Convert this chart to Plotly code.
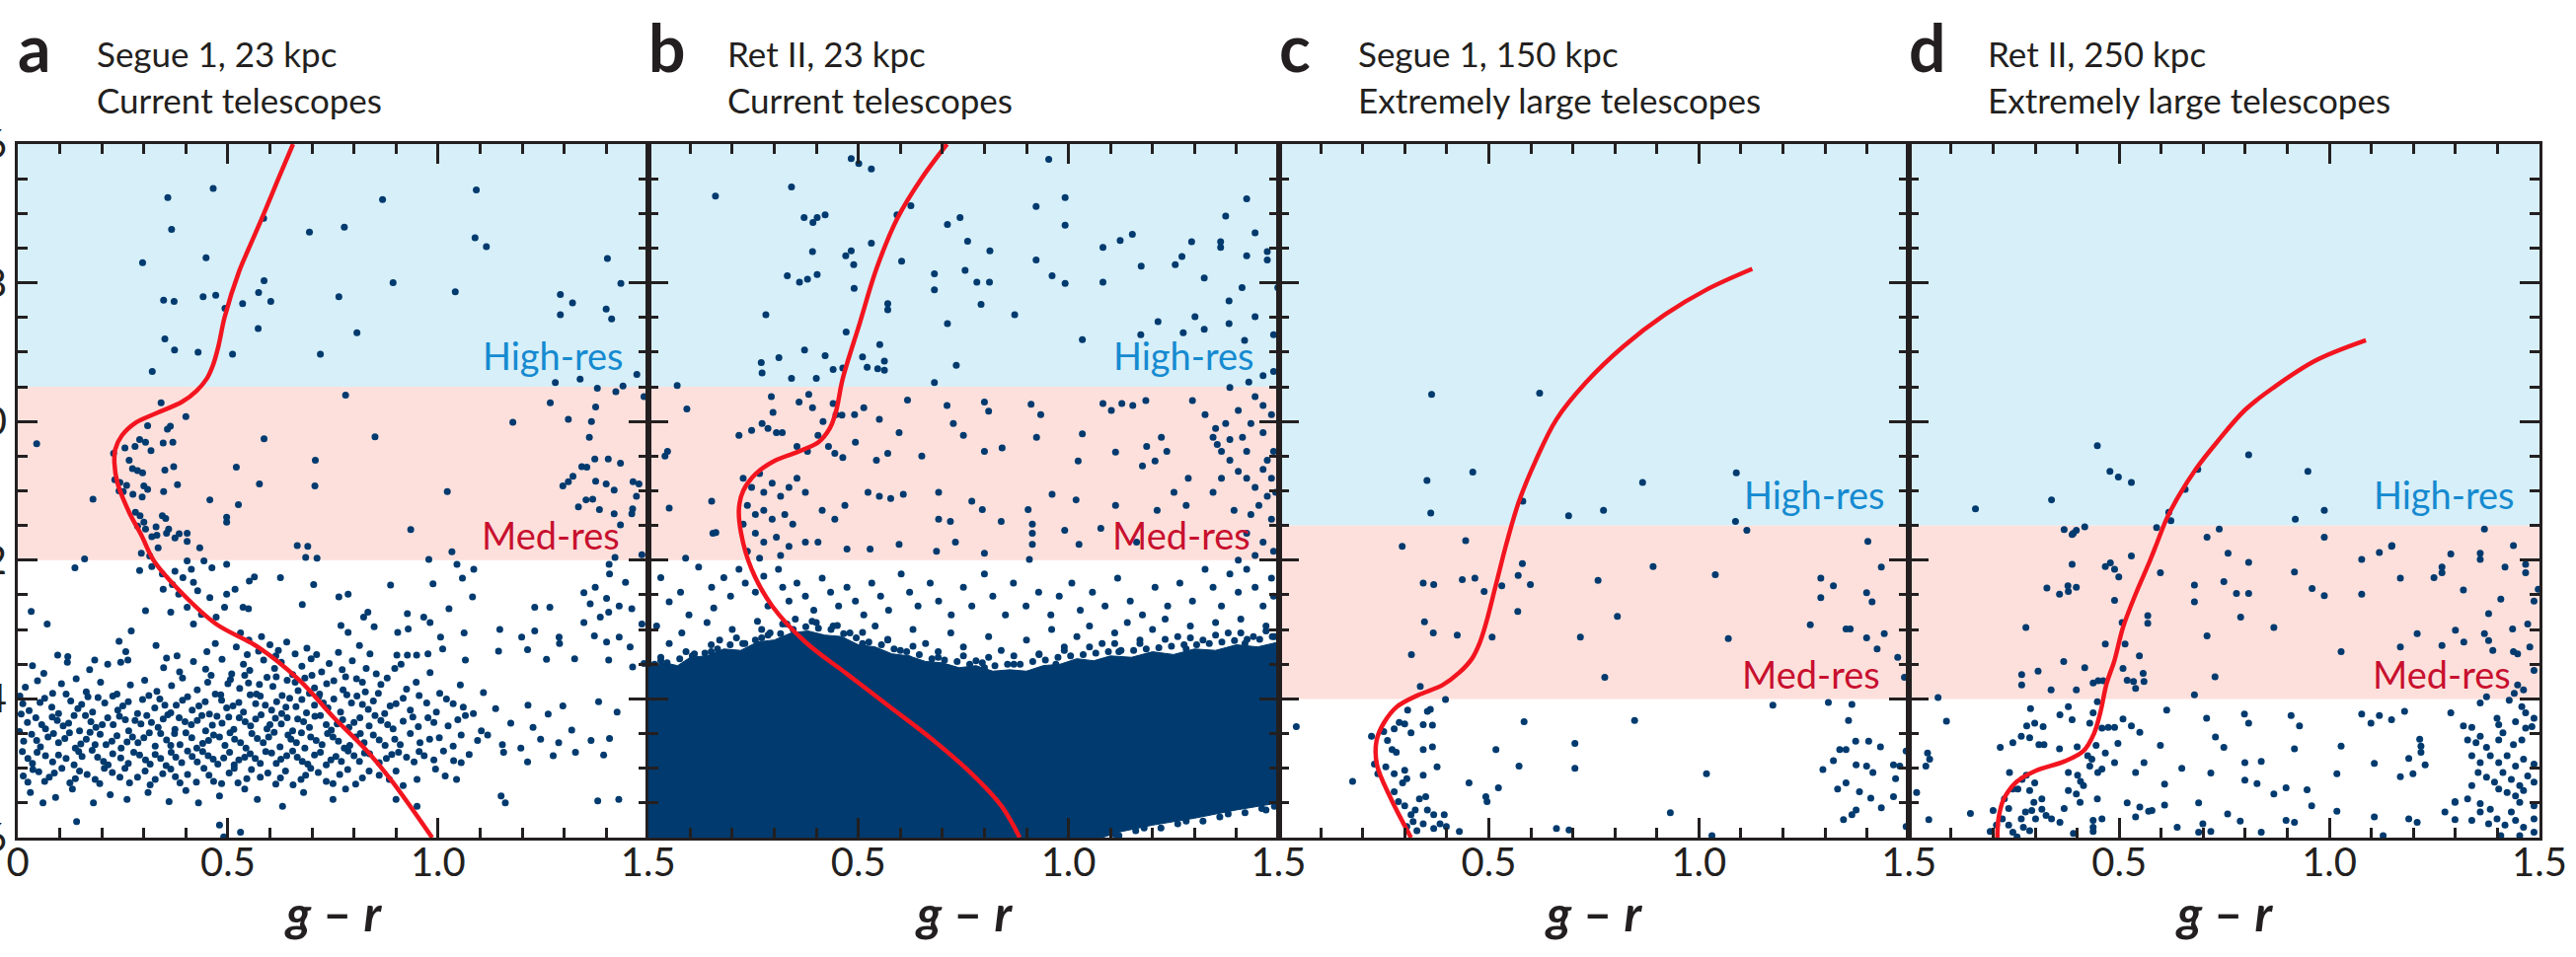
import plotly.graph_objects as go
from plotly.subplots import make_subplots

# ---------------- isochrones: (g - r, r) ----------------
seg23_iso_gr = [0.655, 0.62, 0.581, 0.55, 0.527, 0.492, 0.478, 0.465, 0.45, 0.425, 0.39, 0.33,
                0.28, 0.248, 0.232, 0.230, 0.237, 0.265, 0.295, 0.324, 0.393, 0.472, 0.571, 0.67,
                0.749, 0.828, 0.887, 0.986]
seg23_iso_r = [16.0, 16.5, 17.07, 17.5, 17.83, 18.5, 18.9, 19.18, 19.38, 19.56, 19.72, 19.88,
               20.02, 20.2, 20.4, 20.6, 20.88, 21.31, 21.65, 22.01, 22.49, 22.92, 23.25, 23.73,
               24.25, 24.73, 25.16, 26.0]

ret23_iso_gr = [0.711, 0.651, 0.592, 0.543, 0.503, 0.463, 0.447, 0.432, 0.405, 0.355, 0.3,
                0.255, 0.226, 0.216, 0.221, 0.246, 0.295, 0.374, 0.473, 0.572, 0.671, 0.77,
                0.84, 0.884]
ret23_iso_r = [16.0, 16.49, 17.08, 17.8, 18.59, 19.38, 19.85, 20.1, 20.3, 20.44, 20.57,
               20.76, 21.0, 21.25, 21.61, 22.13, 22.66, 23.18, 23.64, 24.1, 24.56, 25.08,
               25.54, 26.0]

seg150_iso_gr = [1.127, 1.018, 0.919, 0.82, 0.731, 0.661, 0.612, 0.572, 0.543, 0.518, 0.493,
                 0.478, 0.46, 0.43, 0.39, 0.33, 0.28, 0.25, 0.233, 0.234, 0.265, 0.315]
seg150_iso_r = [17.8, 18.1, 18.46, 18.92, 19.44, 19.97, 20.56, 21.15, 21.74, 22.33, 22.92,
                23.2, 23.42, 23.62, 23.8, 23.95, 24.12, 24.35, 24.6, 24.95, 25.41, 26.0]

ret250_iso_gr = [1.087, 0.968, 0.87, 0.80, 0.731, 0.682, 0.642, 0.613, 0.59, 0.573, 0.539, 0.509,
                 0.489, 0.47, 0.455, 0.44, 0.415, 0.37, 0.30, 0.255, 0.225, 0.213, 0.21]
ret250_iso_r = [18.83, 19.12, 19.5, 19.83, 20.31, 20.69, 21.07, 21.4, 21.75, 22.01, 22.49, 22.97,
                23.44, 23.78, 24.2, 24.5, 24.75, 24.9, 25.04, 25.2, 25.45, 25.72, 26.0]

# ---------------- stars: (g - r, r) ----------------
seg23_stars = [
    (0.357, 16.77), (0.465, 16.64), (0.868, 16.80), (1.091, 16.66), (0.366, 17.23), (0.585, 17.07),
    (0.694, 17.27), (0.777, 17.2), (1.088, 17.35), (1.115, 17.48), (0.297, 17.71), (0.448, 17.64),
    (1.403, 17.65), (0.893, 18.0), (1.435, 18.01), (0.586, 17.97), (0.347, 18.25), (0.372, 18.27),
    (0.441, 18.2), (0.471, 18.18), (0.493, 18.37), (0.535, 18.3), (0.573, 18.14), (0.602, 18.27),
    (0.764, 18.2), (1.041, 18.13), (1.291, 18.17), (1.32, 18.29), (1.291, 18.46), (1.4, 18.38),
    (1.413, 18.52), (0.572, 18.66), (0.807, 18.72), (0.35, 18.81), (0.373, 18.97), (0.429, 19.0),
    (0.511, 19.03), (0.72, 19.03), (0.32, 19.28), (1.279, 19.44), (1.338, 19.39), (1.379, 19.52),
    (1.423, 19.57), (1.44, 19.49), (1.473, 19.32), (1.49, 19.64),
    (0.78, 19.62), (0.341, 19.73), (0.4, 19.93), (1.267, 19.73), (1.375, 19.79), (1.31, 19.97),
    (1.365, 20.0), (1.178, 20.01), (0.309, 20.06), (0.356, 20.11), (0.363, 20.07), (0.045, 20.32),
    (0.29, 20.26), (0.304, 20.3), (0.279, 20.36), (0.255, 20.38), (0.346, 20.31), (0.369, 20.3),
    (0.317, 20.42), (0.586, 20.25), (0.85, 20.22), (1.36, 20.23), (0.228, 20.46), (0.265, 20.56),
    (0.708, 20.56), (1.373, 20.54), (1.405, 20.54), (1.434, 20.6), (0.273, 20.68), (0.285, 20.71),
    (0.297, 20.74), (0.35, 20.7), (0.371, 20.65), (0.52, 20.66), (1.342, 20.65), (1.354, 20.66),
    (0.231, 20.84), (0.243, 20.88), (0.259, 20.92), (0.3, 20.93), (0.309, 20.98), (0.38, 20.91),
    (0.575, 20.9), (0.707, 20.93), (1.321, 20.79), (1.31, 20.87), (1.297, 20.93), (1.375, 20.86),
    (1.4, 20.9), (1.419, 20.99), (1.464, 20.87), (1.478, 20.9), (0.241, 21.0), (0.251, 21.01),
    (0.274, 21.05), (0.296, 21.09), (0.347, 21.01), (1.022, 21.01), (1.472, 21.08), (0.179, 21.12),
    (0.457, 21.13), (0.525, 21.2), (1.352, 21.13), (1.368, 21.12), (1.334, 21.23), (1.384, 21.27),
    (1.419, 21.33), (1.463, 21.26), (1.461, 21.33), (1.434, 21.49), (0.28, 21.31), (0.291, 21.36),
    (0.344, 21.36), (0.352, 21.4), (0.3, 21.45), (0.285, 21.51), (0.304, 21.55), (0.329, 21.52),
    (0.359, 21.55), (0.384, 21.62), (0.403, 21.61), (0.331, 21.64), (0.497, 21.38), (0.497, 21.45),
    (0.935, 21.56), (0.319, 21.66), (0.354, 21.61), (0.374, 21.68), (0.403, 21.73), (0.433, 21.82),
    (0.294, 21.9), (0.314, 21.94), (0.334, 21.82), (0.665, 21.79), (0.69, 21.8), (0.685, 21.96),
    (0.712, 21.97), (1.033, 21.88), (1.421, 21.96), (1.485, 21.92), (0.159, 21.98), (0.136, 22.11),
    (0.29, 22.15), (0.319, 22.09), (0.344, 22.2), (0.374, 22.16), (0.403, 22.01), (0.413, 22.13),
    (0.443, 22.01), (0.462, 22.11), (0.497, 22.06), (0.346, 22.42), (0.368, 22.35), (0.383, 22.49),
    (0.393, 22.25), (0.418, 22.32), (0.428, 22.44), (0.457, 22.54), (0.364, 22.75), (0.403, 22.68),
    (0.437, 22.78), (0.418, 22.92), (0.492, 22.68), (0.472, 22.82), (0.497, 22.49), (0.517, 22.42),
    (0.551, 22.3), (0.563, 22.24), (0.625, 22.25), (0.704, 22.35), (0.764, 22.53), (0.786, 22.49),
    (0.887, 22.36), (0.988, 22.34), (1.045, 22.06), (1.058, 22.26), (1.085, 22.13), (1.082, 22.53),
    (0.978, 21.99), (0.677, 22.64), (0.536, 22.68), (0.549, 22.7), (0.032, 22.74), (0.07, 22.92),
    (0.304, 22.73), (0.27, 23.02), (0.241, 23.17), (0.329, 23.23), (0.257, 23.32), (0.095, 23.37),
    (0.119, 23.39), (0.183, 23.44), (0.245, 23.47), (0.354, 23.41), (0.379, 23.38), (1.407, 22.06),
    (1.408, 22.2), (1.446, 22.32), (1.374, 22.39), (1.347, 22.47), (1.401, 22.55), (1.431, 22.66),
    (1.362, 22.63), (1.406, 22.75), (1.386, 22.82), (1.347, 22.9), (1.461, 22.7), (1.485, 22.92),
    (1.23, 22.68), (1.266, 22.68), (1.147, 23.0), (1.062, 23.05), (1.026, 22.7), (0.927, 22.77),
    (0.966, 22.82), (0.904, 23.04), (0.929, 22.99), (0.981, 22.9), (1.006, 23.11), (1.144, 23.31),
    (1.199, 23.11), (1.23, 23.02), (1.288, 23.11), (1.289, 23.2), (1.372, 23.09), (1.401, 23.18),
    (1.431, 23.11), (1.457, 23.25), (1.213, 23.29), (1.258, 23.43), (1.325, 23.42), (1.406, 23.44),
    (1.463, 23.54), (1.49, 23.49), (1.065, 23.44), (1.011, 23.28), (0.897, 23.56), (0.927, 23.37),
    (0.949, 23.37), (0.976, 23.35), (0.823, 22.82), (0.848, 22.96), (0.769, 22.94), (0.786, 23.04),
    (0.833, 22.75), (0.902, 23.37), (0.813, 23.23), (0.838, 23.35),
    (0.53, 23.05), (0.55, 23.15), (0.58, 23.1), (0.6, 23.22), (0.62, 23.3), (0.64, 23.18),
    (0.66, 23.35), (0.52, 23.25), (0.47, 23.2), (0.45, 23.32), (0.573, 23.31), (0.688, 23.27),
    (0.711, 23.36), (0.614, 23.38), (0.546, 23.36), (0.763, 23.33),
    (0.035, 23.52), (0.062, 23.63), (0.118, 23.47), (0.171, 23.58), (0.214, 23.5), (0.262, 23.44),
    (0.347, 23.55), (0.385, 23.61), (0.418, 23.46), (0.447, 23.57), (0.486, 23.43), (0.509, 23.64),
    (0.537, 23.5), (0.552, 23.59), (0.585, 23.44), (0.611, 23.56), (0.627, 23.47), (0.654, 23.65),
    (0.676, 23.53), (0.698, 23.42), (0.723, 23.61), (0.741, 23.49), (0.772, 23.58), (0.796, 23.45),
    (0.829, 23.56), (0.853, 23.64), (0.912, 23.5), (0.981, 23.62),
    (0.46, 23.66), (0.5, 23.78), (0.54, 23.66), (0.575, 23.79), (0.615, 23.68), (0.66, 23.76),
    (0.7, 23.66), (0.735, 23.78), (0.78, 23.68), (0.82, 23.76),
    (0.018, 23.83), (0.047, 23.74), (0.083, 23.92), (0.104, 23.78), (0.139, 23.71), (0.163, 23.9),
    (0.197, 23.76), (0.236, 23.93), (0.268, 23.8), (0.302, 23.73), (0.331, 23.89), (0.366, 23.81),
    (0.392, 23.7), (0.427, 23.87), (0.452, 23.76), (0.483, 23.94), (0.506, 23.72), (0.528, 23.85),
    (0.549, 23.77), (0.568, 23.93), (0.593, 23.69), (0.607, 23.82), (0.629, 23.95), (0.641, 23.73),
    (0.667, 23.88), (0.683, 23.7), (0.706, 23.84), (0.718, 23.93), (0.752, 23.74), (0.774, 23.87),
    (0.806, 23.71), (0.827, 23.9), (0.864, 23.79), (0.879, 23.7), (0.925, 23.86), (0.948, 23.76),
    (1.004, 23.92), (1.053, 23.8), (1.108, 23.91),
    (0.005, 23.96), (0.053, 24.05), (0.115, 23.93), (0.152, 24.08), (0.191, 23.98), (0.25, 24.1),
    (0.312, 23.95), (0.35, 24.09), (0.392, 24.02), (0.431, 24.1), (0.47, 23.93), (0.512, 24.1),
    (0.553, 23.94), (0.589, 24.09), (0.638, 24.12), (0.694, 23.92), (0.727, 24.06), (0.783, 23.94),
    (0.82, 24.08), (0.858, 23.92), (0.9, 24.07), (0.955, 23.95), (1.02, 24.0), (1.06, 24.12),
    (0.012, 24.07), (0.027, 24.17), (0.064, 23.99), (0.081, 24.12), (0.097, 24.21), (0.126, 24.03),
    (0.143, 24.14), (0.167, 23.97), (0.178, 24.19), (0.207, 24.06), (0.226, 23.96), (0.238, 24.16),
    (0.263, 24.04), (0.285, 24.21), (0.297, 24.01), (0.326, 24.13), (0.338, 24.0), (0.364, 24.2),
    (0.377, 24.09), (0.404, 23.97), (0.415, 24.16), (0.446, 24.04), (0.456, 24.22), (0.485, 24.02),
    (0.497, 24.13), (0.526, 24.05), (0.537, 24.19), (0.566, 24.07), (0.577, 23.96), (0.604, 24.16),
    (0.616, 24.04), (0.628, 24.21), (0.647, 23.99), (0.662, 24.11), (0.676, 24.01), (0.687, 24.2),
    (0.706, 24.09), (0.716, 23.97), (0.738, 24.13), (0.752, 24.0), (0.768, 24.19), (0.794, 24.06),
    (0.807, 23.96), (0.834, 24.15), (0.846, 24.03), (0.873, 24.21), (0.886, 24.1), (0.917, 23.99),
    (0.934, 24.16), (0.973, 24.06), (0.996, 24.19), (1.036, 24.07), (1.084, 24.21), (1.137, 24.14),
    (1.214, 24.09), (1.262, 24.22), (1.297, 24.1), (1.382, 24.04), (1.426, 24.19),
    (0.008, 24.22), (0.057, 24.37), (0.082, 24.26), (0.121, 24.35), (0.161, 24.24), (0.201, 24.37),
    (0.242, 24.25), (0.279, 24.31), (0.318, 24.34), (0.357, 24.23), (0.398, 24.33), (0.438, 24.24),
    (0.463, 24.38), (0.502, 24.26), (0.541, 24.33), (0.579, 24.23), (0.6, 24.37), (0.641, 24.27),
    (0.68, 24.33), (0.72, 24.24), (0.76, 24.36), (0.8, 24.34), (0.85, 24.24), (0.88, 24.37),
    (0.94, 24.26), (0.99, 24.34), (1.065, 24.24),
    (0.023, 24.34), (0.043, 24.27), (0.066, 24.43), (0.094, 24.31), (0.108, 24.39), (0.134, 24.24),
    (0.147, 24.46), (0.174, 24.33), (0.186, 24.41), (0.214, 24.27), (0.227, 24.37), (0.256, 24.3),
    (0.264, 24.46), (0.293, 24.36), (0.307, 24.24), (0.334, 24.41), (0.346, 24.29), (0.374, 24.44),
    (0.384, 24.27), (0.413, 24.37), (0.427, 24.31), (0.447, 24.46), (0.474, 24.25), (0.486, 24.35),
    (0.514, 24.44), (0.527, 24.27), (0.554, 24.39), (0.566, 24.29), (0.593, 24.43), (0.613, 24.28),
    (0.627, 24.36), (0.654, 24.46), (0.666, 24.29), (0.694, 24.41), (0.707, 24.25), (0.734, 24.37),
    (0.746, 24.45), (0.773, 24.3), (0.788, 24.41), (0.814, 24.27), (0.836, 24.39), (0.864, 24.31),
    (0.893, 24.43), (0.917, 24.32), (0.953, 24.4), (0.976, 24.27), (1.024, 24.39), (1.047, 24.3),
    (1.103, 24.46), (1.173, 24.35), (1.226, 24.41), (1.318, 24.45),
    (0.004, 24.47), (0.045, 24.6), (0.085, 24.5), (0.112, 24.57), (0.15, 24.65), (0.172, 24.48),
    (0.21, 24.66), (0.236, 24.53), (0.26, 24.62), (0.3, 24.56), (0.34, 24.5), (0.364, 24.67),
    (0.4, 24.49), (0.44, 24.64), (0.48, 24.55), (0.505, 24.49), (0.53, 24.63), (0.57, 24.57),
    (0.61, 24.48), (0.65, 24.58), (0.675, 24.49), (0.71, 24.6), (0.75, 24.55), (0.79, 24.67),
    (0.815, 24.5), (0.86, 24.59), (0.91, 24.66), (0.98, 24.58), (1.055, 24.52),
    (0.014, 24.61), (0.033, 24.51), (0.054, 24.69), (0.072, 24.55), (0.097, 24.63), (0.123, 24.49),
    (0.137, 24.71), (0.163, 24.58), (0.184, 24.66), (0.196, 24.51), (0.224, 24.61), (0.246, 24.71),
    (0.273, 24.55), (0.286, 24.63), (0.313, 24.49), (0.327, 24.68), (0.354, 24.59), (0.373, 24.5),
    (0.386, 24.66), (0.414, 24.56), (0.426, 24.71), (0.454, 24.6), (0.466, 24.52), (0.493, 24.67),
    (0.516, 24.58), (0.543, 24.71), (0.557, 24.5), (0.584, 24.63), (0.597, 24.55), (0.624, 24.69),
    (0.643, 24.52), (0.663, 24.63), (0.683, 24.71), (0.697, 24.55), (0.724, 24.66), (0.737, 24.5),
    (0.763, 24.61), (0.777, 24.71), (0.804, 24.55), (0.824, 24.63), (0.846, 24.52), (0.874, 24.67),
    (0.897, 24.58), (0.934, 24.5), (0.957, 24.63), (1.003, 24.56), (1.036, 24.68), (1.094, 24.6),
    (1.118, 24.52), (1.153, 24.66), (1.197, 24.71), (1.244, 24.58), (1.287, 24.63), (1.364, 24.6),
    (1.408, 24.57),
    (0.011, 24.76), (0.035, 24.93), (0.066, 24.82), (0.115, 24.86), (0.145, 24.76), (0.19, 24.84),
    (0.215, 24.95), (0.245, 24.85), (0.29, 24.81), (0.315, 24.94), (0.34, 24.86), (0.365, 24.77),
    (0.39, 24.92), (0.415, 24.83), (0.44, 24.76), (0.465, 24.87), (0.49, 24.85), (0.515, 24.95),
    (0.54, 24.84), (0.565, 24.86), (0.59, 24.76), (0.615, 24.93), (0.64, 24.82), (0.665, 24.84),
    (0.69, 24.94), (0.72, 24.77), (0.745, 24.88), (0.77, 24.9), (0.8, 24.82), (0.825, 24.78),
    (0.86, 24.92), (0.89, 24.8), (0.925, 24.84), (0.955, 24.76), (0.99, 24.88), (1.055, 24.92),
    (0.024, 24.86), (0.046, 24.77), (0.083, 24.91), (0.097, 24.81), (0.134, 24.95), (0.153, 24.83),
    (0.177, 24.74), (0.204, 24.9), (0.226, 24.79), (0.263, 24.93), (0.276, 24.77), (0.304, 24.88),
    (0.327, 24.8), (0.353, 24.96), (0.376, 24.84), (0.404, 24.75), (0.427, 24.91), (0.453, 24.82),
    (0.476, 24.94), (0.504, 24.77), (0.526, 24.88), (0.553, 24.79), (0.577, 24.93), (0.604, 24.78),
    (0.626, 24.87), (0.654, 24.75), (0.677, 24.9), (0.706, 24.81), (0.734, 24.95), (0.757, 24.83),
    (0.786, 24.75), (0.813, 24.9), (0.837, 24.79), (0.877, 24.86), (0.906, 24.77), (0.943, 24.91),
    (0.967, 24.82), (1.013, 24.75), (1.037, 24.89), (1.074, 24.8), (1.156, 24.77), (1.213, 24.91),
    (1.274, 24.82), (1.327, 24.77), (1.394, 24.81),
    (0.024, 25.2), (0.05, 25.05), (0.075, 25.13), (0.105, 25.0), (0.137, 25.15), (0.165, 25.09),
    (0.195, 25.22), (0.225, 25.06), (0.255, 25.0), (0.285, 25.13), (0.315, 25.24), (0.345, 25.08),
    (0.375, 25.12), (0.425, 25.2), (0.455, 25.1), (0.485, 25.22), (0.515, 25.0), (0.545, 25.15),
    (0.595, 25.07), (0.625, 25.14), (0.655, 25.24), (0.685, 25.1), (0.715, 25.06), (0.75, 25.22),
    (0.785, 25.02), (0.82, 25.14), (0.86, 25.1), (0.9, 25.04), (0.95, 25.16),
    (0.013, 25.11), (0.036, 25.02), (0.064, 25.19), (0.087, 25.07), (0.124, 25.21), (0.147, 25.04),
    (0.184, 25.16), (0.206, 25.0), (0.243, 25.13), (0.266, 25.21), (0.303, 25.04), (0.327, 25.16),
    (0.364, 25.01), (0.386, 25.21), (0.404, 25.09), (0.443, 25.0), (0.466, 25.19), (0.503, 25.07),
    (0.524, 25.21), (0.556, 25.02), (0.577, 25.13), (0.614, 25.23), (0.637, 25.04), (0.674, 25.16),
    (0.697, 25.0), (0.734, 25.19), (0.766, 25.09), (0.804, 25.23), (0.836, 25.04), (0.884, 25.16),
    (0.917, 25.25), (0.994, 25.01), (1.017, 25.11), (1.044, 25.16),
    (0.03, 25.35), (0.06, 25.5), (0.09, 25.42), (0.13, 25.3), (0.18, 25.5), (0.22, 25.38),
    (0.26, 25.45), (0.31, 25.35), (0.36, 25.48), (0.4, 25.32), (0.43, 25.5), (0.48, 25.4),
    (0.54, 25.3), (0.57, 25.45), (0.63, 25.55), (0.68, 25.35), (0.75, 25.45), (0.78, 25.3),
    (0.9, 25.45), (0.95, 25.55), (1.15, 25.4), (1.16, 25.5), (1.38, 25.47), (1.43, 25.45),
    (0.14, 25.77), (0.48, 25.82), (0.53, 25.92), (0.49, 25.99),
]

# Ret II at 23 kpc: the faint end is a solid mass of stars, kept as an outline
ret23_dense_gr = [0.0, 0.0, 0.04, 0.07, 0.1, 0.14, 0.18, 0.22, 0.26, 0.3, 0.34, 0.38, 0.42, 0.46,
                  0.5, 0.54, 0.58, 0.62, 0.66, 0.7, 0.74, 0.78, 0.82, 0.86, 0.9, 0.94, 0.98, 1.02,
                  1.06, 1.1, 1.15, 1.2, 1.25, 1.3, 1.35, 1.4, 1.45, 1.5,
                  1.5, 1.45, 1.4, 1.3, 1.2, 1.12, 1.08]
ret23_dense_r = [26.0, 23.55, 23.48, 23.52, 23.4, 23.38, 23.28, 23.3, 23.18, 23.15, 23.05, 23.02,
                 23.08, 23.1, 23.22, 23.25, 23.35, 23.38, 23.46, 23.48, 23.55, 23.52, 23.6, 23.58,
                 23.6, 23.52, 23.5, 23.42, 23.45, 23.38, 23.4, 23.32, 23.36, 23.28, 23.3, 23.22,
                 23.25, 23.18,
                 25.5, 25.55, 25.6, 25.72, 25.82, 25.92, 26.0]

ret23_stars = [
    (0.483, 16.21), (0.501, 16.28), (0.531, 16.36), (0.953, 16.22), (0.16, 16.75), (0.341, 16.62),
    (0.371, 17.06), (0.392, 17.13), (0.402, 17.06), (0.421, 17.02), (0.625, 16.89), (0.592, 17.02),
    (0.923, 16.9), (0.992, 16.77), (0.992, 17.17), (1.424, 16.79), (1.374, 17.04), (0.712, 17.16),
    (0.742, 17.06), (1.444, 17.28), (1.152, 17.3), (1.123, 17.39), (1.082, 17.49), (1.293, 17.41),
    (1.362, 17.41), (1.362, 17.49), (1.473, 17.55), (0.76, 17.4), (0.813, 17.54), (0.531, 17.43),
    (0.391, 17.55), (0.47, 17.61), (0.483, 17.54), (0.489, 17.74), (0.603, 17.69), (0.923, 17.67),
    (1.173, 17.76), (1.254, 17.74), (1.27, 17.62), (1.424, 17.61), (1.473, 17.67), (0.331, 17.9),
    (0.36, 17.99), (0.379, 17.95), (0.402, 17.88), (0.681, 17.87), (0.681, 18.1), (0.754, 17.82),
    (0.782, 17.99), (0.812, 17.99), (0.961, 17.9), (0.992, 18.01), (1.082, 17.99), (1.323, 17.93),
    (1.413, 18.07), (1.498, 18.07), (0.49, 18.08), (0.792, 18.31), (0.57, 18.3), (0.57, 18.39),
    (1.382, 18.26), (0.28, 18.46), (0.712, 18.59), (0.872, 18.46), (1.213, 18.56), (1.273, 18.72),
    (1.301, 18.49), (1.323, 18.67), (1.382, 18.59), (1.444, 18.49), (1.488, 18.75), (1.033, 18.82),
    (1.172, 18.75), (1.419, 18.83), (0.471, 18.71), (0.551, 18.89), (0.372, 18.97), (0.421, 19.05),
    (0.311, 19.08), (0.269, 19.15), (0.271, 19.3), (0.44, 19.25), (0.463, 19.23), (0.51, 19.07),
    (0.521, 19.22), (0.546, 19.24), (0.562, 19.13), (0.562, 19.26), (0.4, 19.38), (0.341, 19.38),
    (0.733, 19.19), (0.681, 19.44), (0.069, 19.48), (1.384, 19.51), (1.463, 19.34), (1.488, 19.28),
    (1.429, 19.43),
    (0.092, 19.82), (0.046, 20.43), (0.04, 20.5), (0.05, 21.25), (0.089, 21.97), (0.151, 21.15),
    (0.154, 21.61), (0.161, 21.6), (0.216, 20.2), (0.246, 20.13), (0.271, 20.03), (0.293, 19.64),
    (0.297, 19.87), (0.285, 20.1), (0.305, 20.16), (0.319, 20.16), (0.359, 19.72), (0.382, 19.61),
    (0.391, 19.8), (0.416, 20.0), (0.44, 19.74), (0.447, 19.9), (0.461, 19.91), (0.491, 19.9),
    (0.513, 19.8), (0.55, 19.97), (0.617, 19.69), (0.711, 19.77), (0.8, 19.72), (0.81, 19.85),
    (0.911, 19.75), (0.934, 19.9), (1.082, 19.74), (1.102, 19.84), (1.127, 19.74), (1.153, 19.77),
    (1.184, 19.7), (1.295, 19.7), (1.325, 19.9), (1.35, 20.1), (0.354, 20.36), (0.379, 20.43),
    (0.404, 20.2), (0.429, 20.36), (0.444, 20.46), (0.463, 20.52), (0.493, 20.3), (0.543, 20.56),
    (0.57, 20.46), (0.597, 20.16), (0.651, 20.5), (0.726, 20.03), (0.75, 20.2), (0.8, 20.43),
    (0.842, 20.38), (0.924, 20.23), (1.033, 20.18), (1.112, 20.44), (1.186, 20.36), (1.221, 20.23),
    (1.234, 20.43), (1.176, 20.64), (1.206, 20.57), (1.023, 20.57), (1.354, 20.33), (1.364, 20.43),
    (1.384, 20.56), (1.404, 20.72), (1.424, 20.82), (1.444, 20.95), (1.463, 20.69), (1.483, 20.82),
    (1.473, 21.08), (1.453, 21.21), (1.414, 20.23), (1.434, 20.03), (1.463, 20.16), (1.483, 19.9),
    (1.463, 19.77), (1.444, 19.64), (1.404, 19.84), (1.374, 20.03), (1.344, 20.23), (1.384, 20.26),
    (1.424, 20.43), (1.488, 20.43), (1.473, 20.56), (1.493, 21.02), (1.364, 20.82), (1.344, 21.02),
    (1.394, 21.28), (1.434, 21.34), (1.483, 21.41), (1.424, 21.61), (1.463, 21.74), (1.488, 21.87),
    (1.444, 21.93), (1.404, 22.0),
    (0.226, 20.82), (0.246, 20.95), (0.265, 20.75), (0.275, 21.02), (0.295, 20.89), (0.315, 21.08),
    (0.335, 20.95), (0.354, 20.82), (0.374, 21.02), (0.236, 21.21), (0.255, 21.34), (0.275, 21.28),
    (0.295, 21.41), (0.325, 21.34), (0.344, 21.48), (0.226, 21.48), (0.255, 21.61), (0.275, 21.74),
    (0.305, 21.67), (0.335, 21.8), (0.374, 21.74), (0.404, 21.74), (0.236, 21.87), (0.265, 21.97),
    (0.315, 21.93), (0.414, 21.28), (0.444, 21.41), (0.468, 21.21), (0.523, 21.02), (0.55, 21.08),
    (0.577, 21.11), (0.607, 21.05), (0.691, 21.02), (0.691, 21.41), (0.719, 21.44), (0.77, 21.15),
    (0.795, 21.27), (0.84, 21.44), (0.904, 21.27), (0.914, 21.48), (0.914, 21.61), (0.914, 21.77),
    (0.961, 21.05), (0.991, 21.57), (1.018, 21.13), (1.077, 21.54), (1.112, 21.21), (1.211, 21.28),
    (1.251, 21.02), (1.285, 20.82), (1.28, 21.21), (0.597, 21.77), (0.686, 21.87), (0.731, 21.74),
    (0.8, 21.9), (0.473, 21.84), (0.528, 21.84), (0.907, 21.99), (1.025, 21.77), (1.162, 21.74),
    (0.077, 22.46), (0.097, 22.79), (0.151, 22.39), (0.156, 22.69), (0.196, 22.52), (0.216, 22.13),
    (0.231, 22.33), (0.255, 22.46), (0.275, 22.23), (0.285, 22.66), (0.31, 22.13), (0.32, 22.39),
    (0.335, 22.59), (0.354, 22.33), (0.374, 22.52), (0.394, 22.72), (0.414, 22.26), (0.434, 22.46),
    (0.453, 22.66), (0.473, 22.39), (0.493, 22.59), (0.513, 22.79), (0.532, 22.33), (0.553, 22.52),
    (0.572, 22.72), (0.602, 22.2), (0.622, 22.46), (0.642, 22.66), (0.671, 22.33), (0.691, 22.59),
    (0.721, 22.79), (0.75, 22.39), (0.77, 22.66), (0.8, 22.2), (0.82, 22.52), (0.85, 22.79),
    (0.869, 22.33), (0.899, 22.66), (0.929, 22.46), (0.958, 22.79), (0.978, 22.52), (1.008, 22.33),
    (1.028, 22.72), (1.057, 22.46), (1.087, 22.66), (1.117, 22.26), (1.147, 22.59), (1.176, 22.79),
    (1.206, 22.39), (1.236, 22.66), (1.265, 22.33), (1.295, 22.59), (1.325, 22.13), (1.344, 22.39),
    (1.364, 22.66), (1.384, 22.2), (1.404, 22.46), (1.424, 22.13), (1.444, 22.39), (1.463, 22.66),
    (1.483, 22.26), (1.488, 22.52), (0.03, 22.25), (0.05, 22.6), (0.12, 22.1), (0.18, 22.25),
    (0.02, 22.95), (0.05, 23.2), (0.08, 23.05), (0.11, 23.35), (0.14, 22.9), (0.17, 23.15),
    (0.2, 23.0), (0.23, 23.2), (0.26, 22.88), (0.29, 23.05), (0.32, 22.92), (0.35, 22.85),
    (0.4, 22.9), (0.44, 22.95), (0.48, 23.05), (0.51, 23.2), (0.54, 22.95), (0.57, 23.15),
    (0.6, 23.3), (0.63, 23.0), (0.66, 23.2), (0.69, 23.4), (0.72, 23.05), (0.75, 23.25),
    (0.78, 23.45), (0.81, 23.1), (0.84, 23.3), (0.87, 23.5), (0.9, 23.15), (0.93, 23.35),
    (0.96, 23.0), (0.99, 23.25), (1.02, 23.1), (1.05, 22.95), (1.08, 23.2), (1.11, 23.05),
    (1.14, 22.9), (1.17, 23.15), (1.2, 23.0), (1.23, 22.85), (1.26, 23.1), (1.29, 22.95),
    (1.32, 23.15), (1.35, 22.9), (1.38, 23.05), (1.41, 22.85), (1.44, 23.1), (1.47, 22.95),
    (1.49, 23.1), (0.03, 23.45), (0.15, 23.32), (0.27, 23.12), (0.62, 23.42), (0.8, 23.55),
    (0.97, 23.5), (1.12, 23.32), (1.28, 23.28), (1.42, 23.2),
    (0.015, 23.5), (0.045, 23.48), (0.075, 23.42), (0.105, 23.38), (0.135, 23.34), (0.165, 23.28),
    (0.195, 23.22), (0.225, 23.2), (0.255, 23.15), (0.285, 23.08), (0.315, 23.06), (0.345, 23.0),
    (0.375, 22.96), (0.405, 22.98), (0.435, 23.0), (0.465, 23.06), (0.495, 23.12), (0.525, 23.18),
    (0.555, 23.22), (0.585, 23.28), (0.615, 23.32), (0.645, 23.36), (0.675, 23.42), (0.705, 23.44),
    (0.735, 23.46), (0.765, 23.5), (0.795, 23.48), (0.825, 23.52), (0.855, 23.5), (0.885, 23.5),
    (0.915, 23.46), (0.945, 23.44), (0.975, 23.4), (1.005, 23.38), (1.035, 23.36), (1.065, 23.34),
    (1.095, 23.32), (1.125, 23.3), (1.155, 23.3), (1.185, 23.28), (1.215, 23.26), (1.245, 23.24),
    (1.275, 23.22), (1.305, 23.22), (1.335, 23.2), (1.365, 23.18), (1.395, 23.16), (1.425, 23.14),
    (1.455, 23.14), (1.485, 23.1),
    (0.03, 23.4), (0.09, 23.32), (0.15, 23.22), (0.21, 23.12), (0.27, 23.0), (0.33, 22.92),
    (0.39, 22.88), (0.45, 22.94), (0.51, 23.04), (0.57, 23.14), (0.63, 23.24), (0.69, 23.32),
    (0.75, 23.38), (0.81, 23.4), (0.87, 23.38), (0.93, 23.36), (0.99, 23.3), (1.05, 23.25),
    (1.11, 23.2), (1.17, 23.2), (1.23, 23.14), (1.29, 23.12), (1.35, 23.08), (1.41, 23.05),
    (1.47, 23.02),
    (1.46, 25.58), (1.38, 25.66), (1.28, 25.76), (1.18, 25.86), (1.11, 25.95), (1.12, 25.97),
    (1.16, 25.9), (1.22, 25.86), (1.26, 25.8), (1.32, 25.76), (1.36, 25.7), (1.42, 25.64),
    (1.47, 25.6), (1.49, 25.55), (1.07, 25.99),
]

seg150_stars = [
    (0.364, 19.61), (0.621, 19.59), (0.462, 20.73), (0.353, 20.85), (0.866, 20.88), (1.089, 20.74),
    (0.581, 21.15), (0.362, 21.32), (0.69, 21.36), (0.773, 21.28), (1.087, 21.44), (1.114, 21.57),
    (0.294, 21.8), (0.445, 21.72), (0.58, 22.05), (0.891, 22.09), (1.039, 22.21), (1.402, 21.73),
    (1.434, 22.1), (0.344, 22.33), (0.369, 22.35), (0.437, 22.28), (0.467, 22.26), (0.489, 22.45),
    (0.531, 22.37), (0.57, 22.22), (0.599, 22.35), (0.76, 22.29), (1.29, 22.26), (1.32, 22.37),
    (1.29, 22.54), (1.399, 22.47), (1.412, 22.6), (0.569, 22.74), (0.806, 22.81), (0.347, 22.89),
    (0.368, 23.05), (0.425, 23.08), (0.508, 23.11), (0.718, 23.11), (1.07, 23.13), (1.265, 22.93),
    (1.35, 22.99), (1.36, 22.99), (1.399, 23.12), (1.424, 23.28), (1.441, 23.06), (0.316, 23.36),
    (0.776, 23.69), (1.473, 23.4), (1.489, 23.69), (0.337, 23.82),
    (0.397, 24.01), (1.176, 24.09), (1.308, 24.05), (1.364, 24.08), (1.356, 24.31), (0.042, 24.4),
    (0.221, 24.54), (0.25, 24.47), (0.275, 24.43), (0.287, 24.34), (0.3, 24.36), (0.315, 24.49),
    (0.344, 24.37), (0.354, 24.18), (0.361, 24.15), (0.366, 24.38), (0.307, 24.16), (0.259, 24.6),
    (0.27, 24.73), (0.28, 24.77), (0.344, 24.73), (0.366, 24.69), (0.584, 24.33), (0.847, 24.31),
    (0.517, 24.73), (0.705, 24.64), (1.373, 24.61), (1.404, 24.61), (1.432, 24.69), (1.335, 24.73),
    (1.35, 24.73), (1.32, 24.89), (1.295, 25.02), (1.374, 24.95), (1.399, 24.97), (1.414, 25.06),
    (1.463, 24.95), (1.478, 24.97), (1.468, 25.15), (1.493, 24.75), (0.228, 24.94), (0.236, 25.08),
    (0.255, 24.98), (0.275, 25.08), (0.3, 25.03), (0.305, 25.15), (0.295, 25.21), (0.344, 25.1),
    (0.377, 24.98), (0.572, 24.97), (0.705, 25.0), (0.176, 25.19), (0.453, 25.21), (0.523, 25.28),
    (1.018, 25.08), (1.33, 25.3), (1.35, 25.21), (1.382, 25.34), (1.409, 25.43), (1.463, 25.41),
    (1.434, 25.57), (1.374, 25.6), (1.364, 25.67), (1.344, 25.74), (0.493, 25.41), (0.496, 25.48),
    (0.275, 25.34), (0.285, 25.48), (0.3, 25.54), (0.315, 25.67), (0.335, 25.44), (0.35, 25.41),
    (0.325, 25.6), (0.354, 25.6), (0.369, 25.67), (0.394, 25.67), (0.384, 25.8), (0.369, 25.87),
    (0.399, 25.84), (0.344, 25.8), (0.329, 25.9), (0.32, 25.77), (0.305, 25.84), (0.43, 25.91),
    (0.661, 25.87), (0.691, 25.89), (0.932, 25.64), (1.031, 25.97), (1.493, 25.84),
]

ret250_stars = [
    (0.448, 20.35), (0.808, 20.48), (0.949, 20.72), (0.478, 20.72), (0.498, 20.8), (0.529, 20.88),
    (0.339, 21.13), (0.158, 21.26), (0.988, 21.28), (0.919, 21.41), (0.623, 21.43), (0.618, 21.31),
    (0.657, 20.98), (0.687, 20.69), (0.369, 21.56), (0.388, 21.63), (0.398, 21.57), (0.418, 21.52),
    (0.589, 21.53), (0.738, 21.55), (0.709, 21.67), (0.988, 21.67), (1.369, 21.55), (1.149, 21.79),
    (1.438, 21.79), (0.391, 21.61),
    (0.529, 21.94), (0.388, 22.06), (0.467, 22.09), (0.479, 22.04), (0.489, 22.13), (0.499, 22.24),
    (0.598, 22.18), (0.759, 21.9), (0.808, 22.03), (0.917, 22.17), (1.077, 21.99), (1.119, 21.89),
    (1.148, 21.8), (1.169, 22.26), (1.249, 22.25), (1.268, 22.1), (1.268, 22.18), (1.289, 21.91),
    (1.359, 21.9), (1.359, 21.99), (1.418, 22.1), (1.467, 22.06), (1.467, 22.18), (1.497, 22.42),
    (0.328, 22.4), (0.358, 22.49), (0.378, 22.37), (0.379, 22.45), (0.398, 22.39), (0.489, 22.58),
    (0.679, 22.36), (0.679, 22.6), (0.749, 22.31), (0.779, 22.48), (0.808, 22.48), (0.959, 22.41),
    (0.988, 22.51), (1.077, 22.49), (1.319, 22.43), (1.408, 22.56), (1.487, 22.59), (0.278, 22.97),
    (0.568, 22.8), (0.568, 22.91), (0.507, 22.9), (0.789, 22.82), (0.868, 22.97), (0.709, 23.09),
    (1.379, 22.77), (1.436, 22.99), (1.472, 22.92), (1.3, 23.01), (1.32, 23.18), (1.209, 23.06),
    (1.169, 23.25), (1.268, 23.23), (1.369, 23.06), (1.379, 23.16), (1.389, 23.3), (1.438, 23.32),
    (1.448, 23.35), (1.477, 23.25), (1.028, 23.32), (0.467, 23.21), (0.514, 23.21), (0.548, 23.38),
    (0.368, 23.46), (0.418, 23.55), (0.509, 23.56), (0.519, 23.73), (0.534, 23.75), (0.557, 23.63),
    (0.559, 23.75), (0.539, 23.85), (0.268, 23.65), (0.268, 23.8), (0.307, 23.6), (0.438, 23.77),
    (0.45, 23.74), (0.462, 23.74), (0.338, 23.87), (0.398, 23.87), (0.728, 23.68), (0.679, 23.94),
    (1.487, 23.59), (1.448, 23.8), (1.462, 23.87),
    (0.069, 23.98), (0.089, 24.32), (0.044, 24.78), (0.049, 24.87), (0.04, 24.97), (0.018, 25.35),
    (0.047, 25.74), (0.146, 25.65), (0.289, 24.14), (0.359, 24.23), (0.379, 24.11), (0.388, 24.3),
    (0.438, 24.2), (0.43, 24.35), (0.448, 24.04), (0.28, 24.39), (0.299, 24.35), (0.319, 24.4),
    (0.459, 24.42), (0.474, 24.41), (0.489, 24.41), (0.509, 24.29), (0.529, 24.39), (0.549, 24.48),
    (0.613, 24.16), (0.708, 24.28), (0.798, 24.22), (0.808, 24.35), (0.909, 24.24), (0.929, 24.39),
    (1.077, 24.22), (1.099, 24.35), (1.119, 24.24), (1.148, 24.3), (1.179, 24.18), (1.289, 24.2),
    (1.319, 24.39), (1.339, 24.41), (1.374, 23.97), (1.359, 24.06), (1.399, 24.28), (1.403, 24.37),
    (1.428, 24.02), (1.44, 23.92), (1.458, 24.11), (1.443, 24.33), (1.467, 24.2), (1.487, 24.28),
    (1.467, 24.42), (1.329, 24.59), (1.349, 24.63), (1.359, 24.54), (1.374, 24.7), (1.403, 24.59),
    (1.413, 24.49), (1.438, 24.66), (1.458, 24.59), (1.482, 24.4), (1.339, 24.82), (1.359, 24.92),
    (1.383, 24.82), (1.403, 24.92), (1.423, 24.82), (1.443, 24.97), (1.462, 24.87), (1.487, 24.94),
    (1.354, 25.06), (1.374, 25.13), (1.393, 25.2), (1.413, 25.06), (1.433, 25.16), (1.453, 25.25),
    (1.472, 25.11), (1.487, 25.2), (1.403, 25.3), (1.423, 25.35), (1.443, 25.4), (1.462, 25.32),
    (1.339, 25.25), (1.299, 25.49), (1.329, 25.44), (1.359, 25.51), (1.359, 25.63), (1.383, 25.59),
    (1.433, 25.63), (1.453, 25.49), (1.487, 25.54), (1.275, 25.63), (1.299, 25.74), (1.339, 25.75),
    (1.379, 25.8), (1.399, 25.73), (1.418, 25.82), (1.443, 25.75), (1.462, 25.85), (1.487, 25.73),
    (1.408, 25.97), (1.453, 25.97), (1.487, 25.92),
    (0.217, 24.7), (0.247, 24.63), (0.267, 24.54), (0.287, 24.56), (0.309, 24.66), (0.321, 24.66),
    (0.358, 24.72), (0.4, 24.69), (0.445, 24.67), (0.467, 24.78), (0.497, 24.64), (0.598, 24.67),
    (0.729, 24.55), (0.749, 24.7), (0.917, 24.72), (1.028, 24.68), (1.215, 24.58), (1.218, 24.68),
    (1.218, 24.77), (1.189, 24.86), (1.228, 24.95), (1.107, 24.93), (1.199, 25.08), (1.169, 25.12),
    (1.018, 25.08), (0.947, 25.31), (0.897, 25.28), (0.868, 25.37), (0.838, 24.9), (0.799, 24.92),
    (0.828, 25.22), (0.799, 25.17), (0.718, 25.07), (0.649, 25.0), (0.608, 25.23), (0.559, 24.92),
    (0.539, 25.06), (0.489, 24.92), (0.459, 25.01), (0.449, 25.06), (0.43, 24.97), (0.425, 24.82),
    (0.435, 24.87), (0.408, 25.19), (0.415, 25.25), (0.401, 25.1), (0.379, 25.06), (0.379, 25.32),
    (0.398, 25.37), (0.407, 25.49), (0.448, 25.44), (0.369, 25.58), (0.359, 25.78), (0.299, 25.21),
    (0.279, 25.1), (0.269, 25.16), (0.239, 25.06), (0.259, 25.3), (0.287, 25.32), (0.316, 25.44),
    (0.297, 25.49), (0.316, 25.59), (0.277, 25.63), (0.247, 25.3), (0.227, 25.44), (0.237, 25.58),
    (0.222, 25.73), (0.237, 25.82), (0.247, 25.92), (0.267, 25.73), (0.272, 25.85), (0.257, 25.99),
    (0.287, 25.9), (0.301, 25.73), (0.292, 25.61), (0.2, 25.61), (0.193, 25.91), (0.208, 25.82),
    (0.326, 25.68), (0.339, 25.73), (0.391, 25.94), (0.438, 25.75), (0.438, 25.85), (0.438, 25.91),
    (0.459, 25.73), (0.519, 25.5), (0.549, 25.56), (0.57, 25.62), (0.578, 25.61), (0.539, 25.7),
    (0.608, 25.53), (0.638, 25.85), (0.689, 25.5), (0.699, 25.8), (0.689, 25.92), (0.718, 25.91),
    (0.758, 25.66), (0.788, 25.76), (0.838, 25.92), (0.897, 25.75), (0.917, 25.78), (0.958, 25.54),
    (1.018, 25.62), (1.107, 25.7), (1.128, 25.97), (1.189, 25.73), (1.209, 25.78), (1.299, 25.48),
]

# ---------------- panel text ----------------
panel_letters = ["a", "b", "c", "d"]
panel_line1 = ["Segue 1, 23 kpc", "Ret II, 23 kpc", "Segue 1, 150 kpc", "Ret II, 250 kpc"]
panel_line2 = ["Current telescopes", "Current telescopes",
               "Extremely large telescopes", "Extremely large telescopes"]
# spectroscopic reach: (high-res limit, med-res limit) in r magnitude
res_limits = [(19.5, 22.0), (19.5, 22.0), (21.5, 24.0), (21.5, 24.0)]

x_tickvals = [0, 0.5, 1.0, 1.5]
x_ticktext_first = ["0", "0.5", "1.0", "1.5"]
x_ticktext_rest = ["", "0.5", "1.0", "1.5"]
y_tickvals = [16, 18, 20, 22, 24, 26]

NAVY = "#003a6e"
RED = "#f2151f"
BLUE_BAND = "#d6eff9"
PINK_BAND = "#fde0dc"
INK = "#231f20"
BODY_FONT = "Lato"

isochrones = [(seg23_iso_gr, seg23_iso_r), (ret23_iso_gr, ret23_iso_r),
              (seg150_iso_gr, seg150_iso_r), (ret250_iso_gr, ret250_iso_r)]
star_sets = [seg23_stars, ret23_stars, seg150_stars, ret250_stars]

fig = make_subplots(rows=1, cols=4, horizontal_spacing=0, shared_yaxes=False)

for i in range(4):
    col = i + 1
    hi, med = res_limits[i]
    fig.add_hrect(y0=16, y1=hi, fillcolor=BLUE_BAND, opacity=1, line_width=0, layer="below",
                  row=1, col=col, exclude_empty_subplots=False)
    fig.add_hrect(y0=hi, y1=med, fillcolor=PINK_BAND, opacity=1, line_width=0, layer="below",
                  row=1, col=col, exclude_empty_subplots=False)

    if i == 1:
        fig.add_trace(go.Scatter(x=ret23_dense_gr, y=ret23_dense_r, mode="lines", fill="toself",
                                 fillcolor=NAVY, line=dict(color=NAVY, width=1),
                                 hoverinfo="skip", showlegend=False), row=1, col=col)

    gr = [p[0] for p in star_sets[i]]
    mag = [p[1] for p in star_sets[i]]
    fig.add_trace(go.Scatter(x=gr, y=mag, mode="markers",
                             marker=dict(size=7, color=NAVY, line=dict(width=0)),
                             showlegend=False), row=1, col=col)

    iso_x, iso_y = isochrones[i]
    fig.add_trace(go.Scatter(x=iso_x, y=iso_y, mode="lines",
                             line=dict(color=RED, width=4.5, shape="spline", smoothing=1.0),
                             showlegend=False), row=1, col=col)

    fig.update_xaxes(range=[0, 1.5], tickmode="array", tickvals=x_tickvals,
                     ticktext=x_ticktext_first if i == 0 else x_ticktext_rest,
                     ticks="inside", ticklen=20, tickwidth=2.5, tickcolor=INK,
                     minor=dict(ticks="inside", ticklen=10, tickwidth=2.5, tickcolor=INK,
                                tickmode="linear", tick0=0, dtick=0.1),
                     showline=True, linecolor=INK, linewidth=3, mirror="allticks",
                     showgrid=False, zeroline=False, automargin=False,
                     ticklabelstandoff=-12,
                     tickfont=dict(family=BODY_FONT, size=40, color=INK),
                     row=1, col=col)
    fig.update_yaxes(range=[26, 16], tickmode="array", tickvals=y_tickvals,
                     ticktext=[str(v) for v in y_tickvals], showticklabels=(i == 0),
                     ticks="inside", ticklen=20, tickwidth=2.5, tickcolor=INK,
                     minor=dict(ticks="inside", ticklen=10, tickwidth=2.5, tickcolor=INK,
                                tickmode="linear", tick0=16, dtick=0.5),
                     showline=True, linecolor=INK, linewidth=3, mirror="allticks",
                     showgrid=False, zeroline=False, automargin=False,
                     tickfont=dict(family=BODY_FONT, size=40, color=INK),
                     row=1, col=col)

    xref = "x" if i == 0 else f"x{col}"
    yref = "y" if i == 0 else f"y{col}"
    fig.add_annotation(x=1.447, y=hi - 0.45, xref=xref, yref=yref, text="High-res",
                       showarrow=False, xanchor="right", yanchor="middle",
                       font=dict(family=BODY_FONT, size=38, color="#158ad0"))
    fig.add_annotation(x=1.437, y=med - 0.36, xref=xref, yref=yref, text="Med-res",
                       showarrow=False, xanchor="right", yanchor="middle",
                       font=dict(family=BODY_FONT, size=38, color="#c8102e"))

    # panel heading and axis title
    x_left = i / 4
    fig.add_annotation(x=x_left, y=1.0 + 99 / 703, xref="paper", yref="paper",
                       text=f"<b>{panel_letters[i]}</b>", showarrow=False,
                       xanchor="left", yanchor="middle", xshift=-2,
                       font=dict(family=BODY_FONT, size=66, color=INK))
    fig.add_annotation(x=x_left, y=1.0 + 92 / 703, xref="paper", yref="paper",
                       text=panel_line1[i], showarrow=False, xanchor="left", yanchor="middle",
                       xshift=78, font=dict(family=BODY_FONT, size=35, color=INK))
    fig.add_annotation(x=x_left, y=1.0 + 45 / 703, xref="paper", yref="paper",
                       text=panel_line2[i], showarrow=False, xanchor="left", yanchor="middle",
                       xshift=78, font=dict(family=BODY_FONT, size=35, color=INK))
    fig.add_annotation(x=x_left + 1 / 8, y=-76 / 703, xref="paper", yref="paper",
                       text="<b><i>g</i> – <i>r</i></b>", showarrow=False,
                       xanchor="center", yanchor="middle",
                       font=dict(family=BODY_FONT, size=50, color=INK))

fig.update_layout(width=2610, height=970, margin=dict(l=18, r=37, t=146, b=121),
                  paper_bgcolor="white", plot_bgcolor="white", showlegend=False)

fig.write_html("out.html")
